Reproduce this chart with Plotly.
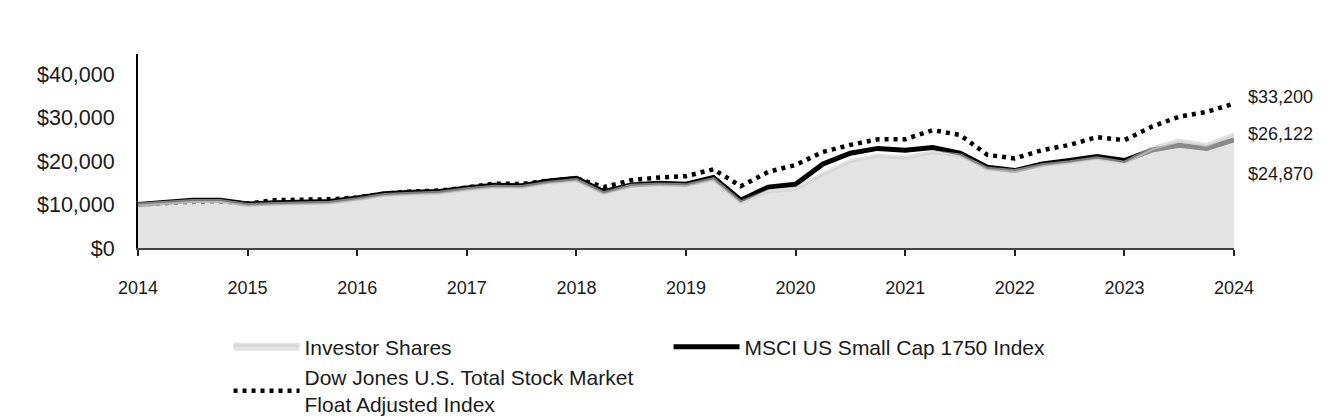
import plotly.graph_objects as go

# Quarterly dates 2014.00 ... 2024.00
quarters = [2014 + i * 0.25 for i in range(41)]

investor_shares = [10000, 10400, 10800, 10800, 9900, 10100, 10200, 10400, 11200, 12200,
                   12500, 12700, 13500, 14100, 14000, 15000, 15600, 12600, 14300, 14600,
                   14400, 15800, 10500, 13000, 13600, 17000, 20000, 21200, 20800, 22000,
                   21300, 18200, 17700, 19000, 19700, 20600, 19600, 22900, 24700, 23700, 26122]

msci_small_cap = [10000, 10600, 11000, 11000, 10100, 10400, 10500, 10700, 11500, 12500,
                  12800, 13000, 13800, 14400, 14300, 15400, 16000, 12950, 14500, 14900,
                  14650, 16200, 11000, 14000, 14650, 19300, 21800, 22900, 22500, 23100,
                  21800, 18550, 17800, 19300, 20100, 21000, 20100, 22500, 23600, 22900, 24870]

dow_jones = [10000, 10400, 10600, 10700, 10200, 11000, 11100, 11200, 11600, 12500,
             13000, 13200, 13900, 14800, 14700, 15500, 16000, 14000, 15600, 16200,
             16500, 18100, 14200, 17500, 19100, 22100, 23700, 25000, 25000, 27100,
             26000, 21400, 20600, 22500, 23700, 25500, 24800, 27900, 30200, 31300, 33200]

year_ticks = list(range(2014, 2025))
y_ticks = [0, 10000, 20000, 30000, 40000]

end_labels = ["$33,200", "$26,122", "$24,870"]
end_values = [dow_jones[-1], investor_shares[-1], msci_small_cap[-1]]
label_shifts = [7, 0, -34]

FONT = "Liberation Sans, Arial, sans-serif"

fig = go.Figure()

fig.add_trace(go.Scatter(
    x=quarters, y=dow_jones, mode="lines",
    name="Dow Jones U.S. Total Stock Market<br>Float Adjusted Index",
    line=dict(color="#000000", width=4.5, dash="4px,5px"),
    legendrank=3, hoverinfo="skip"))

fig.add_trace(go.Scatter(
    x=quarters, y=msci_small_cap, mode="lines",
    name="MSCI US Small Cap 1750 Index",
    line=dict(color="#000000", width=5),
    legendrank=2, hoverinfo="skip"))

fig.add_trace(go.Scatter(
    x=quarters, y=investor_shares, mode="lines",
    name="Investor Shares",
    line=dict(color="rgba(205,205,205,0.6)", width=4),
    fill="tozeroy", fillcolor="rgba(212,212,212,0.65)",
    legendrank=1, hoverinfo="skip"))

for txt, val, sh in zip(end_labels, end_values, label_shifts):
    fig.add_annotation(x=2024, y=val, text=txt, showarrow=False,
                       xanchor="left", yanchor="middle", xshift=12, yshift=sh,
                       font=dict(family=FONT, size=18, color="#1a1a1a"))

fig.update_layout(
    width=1344, height=420,
    margin=dict(l=130, r=118, t=46, b=180, autoexpand=False),
    plot_bgcolor="white", paper_bgcolor="white",
    font=dict(family=FONT, color="#1a1a1a"),
    showlegend=True,
    legend=dict(orientation="h", x=0.0826, y=-0.405, xanchor="left", yanchor="top",
                traceorder="normal", entrywidth=359, entrywidthmode="pixels",
                itemwidth=66,
                font=dict(family=FONT, size=21, color="#1a1a1a"),
                bgcolor="rgba(0,0,0,0)"),
    xaxis=dict(range=[2014, 2024], tickvals=year_ticks, ticktext=[str(y) for y in year_ticks],
               showgrid=False, zeroline=False, showline=True, linecolor="#444", linewidth=2,
               ticks="outside", ticklen=6, tickwidth=2, tickcolor="#222",
               ticklabelstandoff=16,
               tickfont=dict(family=FONT, size=18, color="#1a1a1a")),
    yaxis=dict(range=[0, 44600], tickvals=y_ticks,
               ticktext=["$0", "$10,000", "$20,000", "$30,000", "$40,000"],
               showgrid=False, zeroline=False, showline=True, linecolor="#000", linewidth=2,
               ticks="", ticklabelstandoff=17,
               tickfont=dict(family=FONT, size=21.5, color="#1a1a1a")),
)

fig.write_html("out.html")
